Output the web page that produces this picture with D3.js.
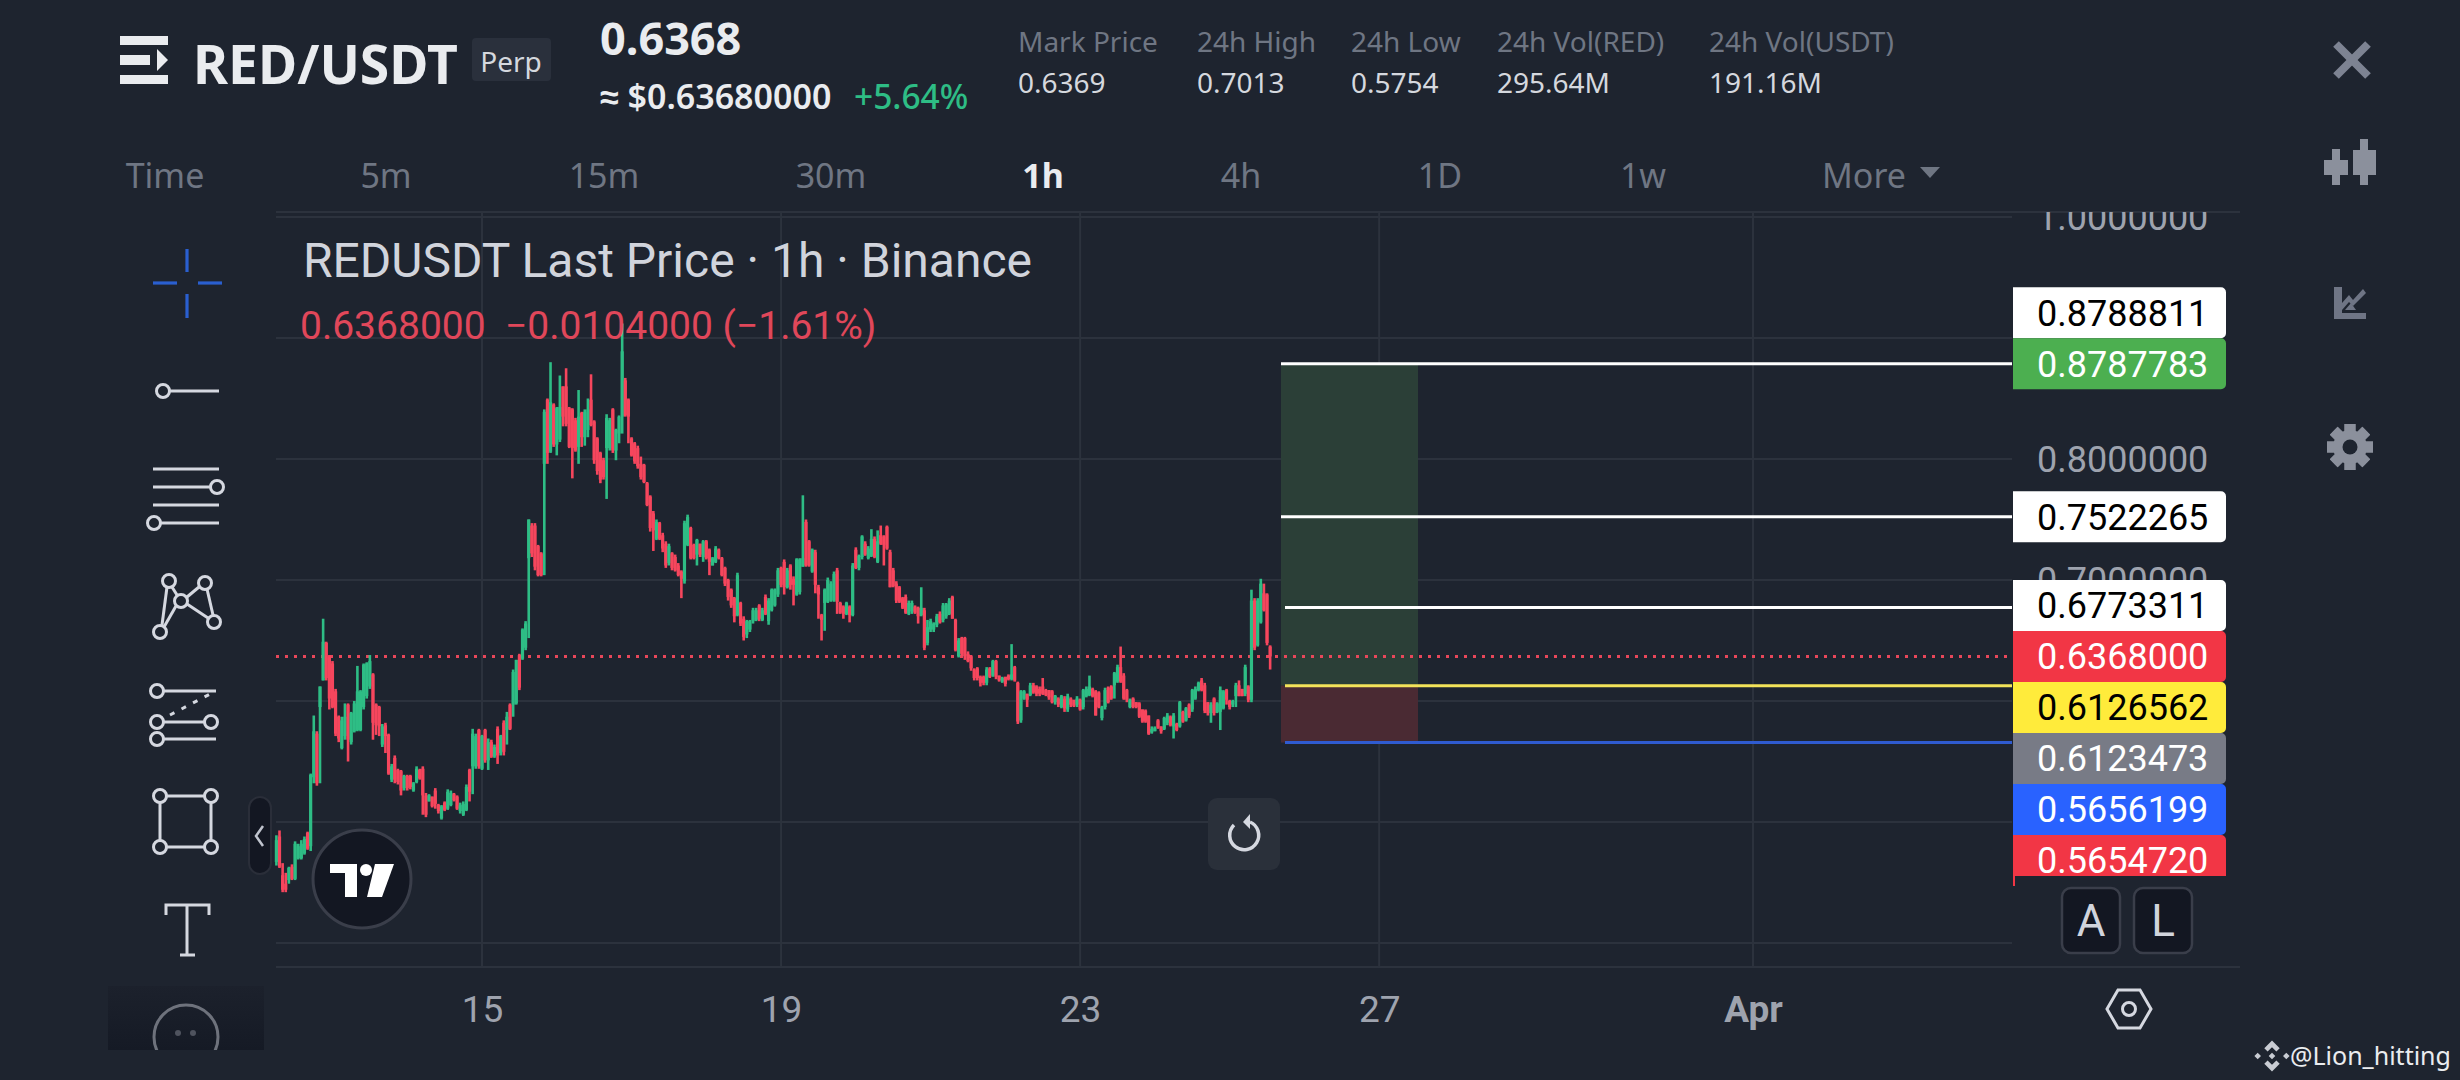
<!DOCTYPE html>
<html><head><meta charset="utf-8">
<script src="https://cdn.jsdelivr.net/npm/d3@7/dist/d3.min.js"></script>
<style>html,body{margin:0;padding:0;background:#1e242f;overflow:hidden}svg{display:block}text{font-family:Roboto,sans-serif}</style>
</head><body><svg id="c" width="2460" height="1080"></svg>
<script>
const highs=[
.489,.493,.466,.458,.463,.465,.484,.482,.485,.488,.492,.540,.588,.575,.612,.668,.649,.638,.633,.610,
.588,.587,.598,.598,.591,.600,.629,.609,.631,.632,.638,.623,.598,.596,.581,.582,.573,.548,.555,.544,
.543,.539,.539,.539,.533,.546,.544,.546,.524,.523,.521,.528,.515,.514,.517,.527,.526,.524,.522,.516,
.517,.531,.544,.577,.573,.577,.572,.577,.569,.568,.564,.579,.572,.584,.591,.598,.626,.634,.639,.660,
.666,.750,.747,.747,.729,.723,.841,.850,.880,.846,.843,.869,.860,.875,.843,.842,.834,.857,.839,.841,
.850,.870,.832,.818,.806,.801,.837,.834,.842,.825,.836,.912,.867,.850,.818,.814,.811,.802,.796,.781,
.770,.757,.750,.748,.739,.732,.730,.723,.721,.714,.708,.749,.754,.744,.730,.734,.730,.733,.733,.726,
.719,.728,.726,.719,.711,.701,.693,.686,.706,.682,.670,.667,.667,.677,.677,.680,.677,.688,.685,.693,
.693,.710,.711,.717,.710,.713,.703,.718,.718,.770,.750,.733,.726,.725,.696,.672,.693,.702,.699,.707,
.710,.682,.679,.682,.679,.714,.727,.721,.737,.732,.728,.742,.736,.741,.745,.737,.745,.725,.710,.699,
.695,.686,.688,.683,.683,.679,.678,.694,.677,.667,.668,.665,.672,.674,.681,.681,.685,.687,.668,.652,
.653,.653,.641,.638,.627,.628,.621,.621,.628,.628,.634,.634,.621,.620,.620,.622,.647,.629,.616,.609,
.609,.606,.615,.615,.613,.612,.619,.610,.609,.609,.605,.603,.605,.604,.606,.603,.601,.604,.602,.610,
.612,.621,.611,.609,.608,.596,.611,.612,.613,.624,.630,.645,.623,.610,.602,.603,.599,.599,.593,.593,
.588,.579,.579,.585,.579,.587,.590,.588,.590,.582,.600,.592,.595,.598,.610,.612,.616,.619,.615,.599,
.599,.603,.599,.612,.609,.610,.601,.601,.615,.617,.610,.630,.613,.692,.685,.685,.701,.697,.689,.646];
const lows=[
.464,.462,.442,.442,.449,.452,.452,.469,.469,.473,.477,.476,.532,.530,.532,.617,.617,.593,.594,.571,
.566,.560,.568,.550,.564,.574,.575,.575,.593,.602,.610,.568,.572,.571,.562,.557,.539,.533,.532,.531,
.522,.526,.526,.527,.525,.532,.535,.506,.504,.517,.512,.511,.507,.502,.509,.510,.513,.517,.510,.507,
.505,.509,.517,.523,.544,.544,.543,.549,.543,.553,.553,.548,.555,.555,.564,.576,.587,.597,.609,.634,
.642,.652,.719,.708,.703,.703,.704,.796,.805,.810,.803,.814,.827,.827,.809,.784,.806,.796,.810,.811,
.818,.827,.796,.787,.780,.783,.767,.807,.805,.799,.813,.821,.835,.813,.802,.796,.792,.783,.780,.761,
.740,.724,.733,.733,.723,.710,.712,.708,.707,.703,.685,.697,.728,.717,.717,.712,.719,.715,.717,.704,
.712,.714,.717,.703,.695,.683,.677,.665,.670,.662,.650,.652,.657,.664,.666,.666,.666,.671,.663,.674,
.678,.686,.694,.688,.693,.692,.679,.687,.688,.711,.711,.711,.706,.689,.668,.650,.658,.681,.682,.682,
.672,.672,.668,.671,.665,.670,.709,.708,.717,.720,.717,.719,.718,.714,.729,.712,.725,.694,.694,.681,
.681,.676,.672,.671,.672,.672,.664,.670,.642,.646,.657,.657,.661,.664,.665,.668,.671,.668,.641,.636,
.637,.634,.632,.625,.617,.617,.612,.613,.613,.619,.620,.618,.616,.615,.612,.617,.617,.616,.581,.582,
.601,.595,.604,.606,.604,.604,.605,.604,.601,.598,.597,.595,.594,.591,.591,.595,.595,.595,.592,.593,
.603,.604,.603,.588,.594,.584,.593,.598,.601,.602,.615,.615,.601,.599,.594,.594,.594,.586,.582,.582,
.572,.573,.575,.577,.573,.576,.580,.579,.569,.575,.578,.582,.583,.586,.591,.601,.608,.608,.590,.588,
.582,.588,.590,.576,.593,.597,.593,.595,.595,.604,.604,.604,.599,.599,.642,.645,.664,.674,.646,.626];
const opens=[
.467,.488,.456,.449,.452,.463,.453,.470,.470,.474,.491,.480,.537,.573,.595,.617,.648,.637,.631,.608,
.587,.561,.571,.597,.566,.575,.576,.576,.595,.604,.612,.622,.597,.595,.564,.580,.572,.535,.553,.543,
.542,.528,.538,.538,.526,.533,.543,.544,.522,.517,.521,.526,.514,.503,.516,.511,.514,.523,.521,.509,
.506,.510,.543,.546,.546,.576,.544,.576,.551,.566,.554,.577,.557,.582,.576,.597,.597,.598,.638,.635,
.644,.718,.745,.745,.728,.722,.796,.849,.806,.845,.812,.816,.860,.860,.842,.841,.832,.810,.838,.818,
.824,.849,.831,.817,.805,.799,.809,.809,.841,.807,.821,.835,.865,.849,.817,.813,.809,.796,.795,.780,
.769,.755,.734,.747,.737,.730,.714,.722,.719,.712,.707,.699,.729,.743,.729,.721,.730,.719,.732,.725,
.712,.715,.725,.718,.710,.700,.692,.685,.671,.681,.668,.655,.659,.666,.667,.679,.667,.686,.666,.675,
.679,.688,.710,.715,.694,.712,.701,.688,.690,.711,.748,.732,.707,.723,.694,.671,.681,.682,.683,.683,
.708,.681,.678,.672,.678,.671,.725,.710,.719,.730,.718,.720,.734,.715,.737,.736,.744,.723,.708,.697,
.694,.685,.686,.672,.674,.678,.677,.671,.675,.648,.659,.659,.663,.672,.667,.670,.672,.686,.667,.637,
.652,.652,.639,.637,.626,.627,.620,.620,.615,.627,.621,.633,.621,.616,.620,.621,.618,.628,.615,.584,
.602,.606,.605,.613,.612,.610,.612,.609,.609,.608,.599,.602,.595,.602,.593,.602,.601,.597,.601,.595,
.604,.605,.610,.608,.607,.586,.595,.611,.612,.613,.616,.628,.621,.609,.595,.602,.599,.598,.593,.592,
.588,.574,.575,.584,.579,.577,.582,.587,.579,.581,.579,.591,.584,.597,.593,.602,.609,.617,.613,.599,
.590,.602,.591,.591,.594,.609,.600,.597,.604,.613,.610,.606,.612,.601,.683,.646,.665,.689,.688,.645];
const closes=[
.485,.463,.444,.444,.462,.453,.482,.480,.482,.486,.478,.539,.575,.532,.612,.649,.619,.602,.595,.573,
.569,.584,.587,.568,.590,.598,.608,.608,.630,.631,.633,.582,.580,.579,.579,.571,.540,.546,.535,.533,
.526,.538,.528,.529,.532,.544,.536,.522,.506,.522,.513,.515,.509,.513,.510,.525,.524,.518,.511,.514,
.515,.529,.525,.573,.571,.546,.571,.551,.566,.554,.562,.555,.571,.558,.587,.577,.624,.634,.611,.659,
.664,.750,.722,.711,.704,.704,.839,.805,.847,.812,.842,.843,.835,.829,.810,.809,.807,.835,.818,.839,
.841,.828,.799,.790,.783,.785,.834,.832,.807,.824,.835,.889,.836,.835,.803,.798,.794,.785,.781,.762,
.743,.741,.748,.734,.726,.712,.728,.710,.708,.704,.701,.747,.752,.718,.718,.733,.721,.732,.718,.715,
.718,.726,.718,.704,.697,.686,.679,.670,.704,.664,.653,.666,.666,.675,.675,.668,.675,.672,.683,.692,
.692,.708,.696,.694,.708,.696,.696,.717,.717,.718,.712,.712,.725,.696,.688,.667,.692,.700,.697,.705,
.682,.673,.672,.681,.671,.712,.710,.720,.736,.721,.726,.734,.719,.732,.730,.729,.726,.694,.695,.683,
.682,.677,.673,.681,.681,.673,.670,.677,.644,.661,.666,.664,.670,.665,.679,.680,.683,.668,.642,.650,
.639,.637,.633,.627,.619,.619,.615,.615,.626,.620,.633,.620,.617,.619,.614,.618,.622,.617,.583,.608,
.608,.601,.613,.607,.606,.606,.606,.605,.603,.599,.604,.597,.604,.594,.604,.597,.596,.602,.593,.609,
.610,.612,.604,.588,.595,.595,.609,.599,.602,.623,.628,.616,.602,.601,.601,.595,.595,.587,.583,.583,
.573,.577,.578,.578,.575,.586,.588,.580,.588,.576,.599,.583,.594,.588,.609,.610,.615,.609,.592,.590,
.597,.590,.598,.609,.608,.601,.595,.600,.613,.604,.604,.628,.601,.683,.644,.683,.697,.675,.648,.6368];

const dateTicks=["2025-03-15","2025-03-19","2025-03-23","2025-03-27","2025-04-01"];
const dateLabels=["15","19","23","27","Apr"];
const priceTicks=[1.0,0.8,0.7];
const gridPrices=[1.0,0.9,0.8,0.7,0.6,0.5,0.4];
const lastPrice=0.6368;
const tp2=0.8787783,tp1=0.7522265,lev=0.6773311,entry=0.6126562,stop=0.5656199;
const tagValues=["0.8788811","0.8787783","0.7522265","0.6773311","0.6368000","0.6126562","0.6123473","0.5656199","0.5654720"];
const tagFill=["#ffffff","#4caf50","#ffffff","#ffffff","#f23645","#ffeb3b","#787b86","#2962ff","#f23645"];
const tagInk=["#000","#fff","#000","#000","#fff","#000","#fff","#fff","#fff"];
const tabs=["Time","5m","15m","30m","1h","4h","1D","1w","More"];
const statNames=["Mark Price","24h High","24h Low","24h Vol(RED)","24h Vol(USDT)"];
const statValues=["0.6369","0.7013","0.5754","295.64M","191.16M"];

const svg=d3.select("#c");
const BG="#1e242f",GRID="#2c323d",UP="#2ebd85",DOWN="#f6465d",ICON="#d5d8e0",DIM="#9ea3ae",MUTED="#6f7683";
svg.append("rect").attr("width",2460).attr("height",1080).attr("fill",BG);
const parse=d3.utcParse("%Y-%m-%d");
const L=276,R=2012,T=212,B=967;
const x=d3.scaleUtc().domain([parse("2025-03-15"),parse("2025-04-01")]).range([482,1753]);
const y=d3.scaleLinear().domain([0.4,1.0]).range([943,217]);
const t0=Date.UTC(2025,2,12,6);
const cx=i=>x(new Date(t0+i*3600e3));
const defs=svg.append("defs");
defs.append("clipPath").attr("id","axisClip").append("rect").attr("x",R).attr("y",T).attr("width",230).attr("height",B-T);
defs.append("clipPath").attr("id","tagClip").append("rect").attr("x",R).attr("y",T).attr("width",230).attr("height",876-T);
defs.append("clipPath").attr("id","moreClip").append("rect").attr("x",108).attr("y",986).attr("width",156).attr("height",64);
const grad=defs.append("linearGradient").attr("id","fade").attr("x1",0).attr("x2",0).attr("y1",0).attr("y2",1);
grad.append("stop").attr("offset",0).attr("stop-color","#1c212c");
grad.append("stop").attr("offset",1).attr("stop-color","#151a25");

// borders and grid
const borders=svg.append("g").attr("stroke",GRID).attr("stroke-width",2);
borders.append("line").attr("x1",L).attr("x2",2240).attr("y1",T).attr("y2",T);
borders.append("line").attr("x1",L).attr("x2",2240).attr("y1",B).attr("y2",B);
svg.append("g").selectAll("line").data(gridPrices).join("line").attr("x1",L).attr("x2",R)
 .attr("y1",d=>y(d)).attr("y2",d=>y(d)).attr("stroke",GRID).attr("stroke-width",2);
svg.append("g").selectAll("line").data(dateTicks).join("line").attr("x1",d=>x(parse(d))).attr("x2",d=>x(parse(d)))
 .attr("y1",T).attr("y2",B).attr("stroke",GRID).attr("stroke-width",2);

// position tool
svg.append("rect").attr("x",1281).attr("width",137).attr("y",y(tp2)).attr("height",y(entry)-y(tp2)).attr("fill","#2b3f37");
svg.append("rect").attr("x",1281).attr("width",137).attr("y",y(entry)).attr("height",y(stop)-y(entry)).attr("fill","#4a2a33");

// last price dotted
svg.append("line").attr("x1",L).attr("x2",R).attr("y1",y(lastPrice)).attr("y2",y(lastPrice))
 .attr("stroke","#e8475a").attr("stroke-width",3).attr("stroke-dasharray","3 6");

// candles
const idx=d3.range(closes.length);
const col=i=>closes[i]>=opens[i]?UP:DOWN;
svg.append("g").selectAll("rect").data(idx).join("rect")
 .attr("x",i=>cx(i)-1.3).attr("width",2.6).attr("y",i=>y(highs[i])).attr("height",i=>y(lows[i])-y(highs[i])).attr("fill",col);
svg.append("g").selectAll("rect").data(idx).join("rect")
 .attr("x",i=>cx(i)-1.6).attr("width",3.2).attr("y",i=>y(Math.max(opens[i],closes[i])))
 .attr("height",i=>Math.max(1.2,Math.abs(y(opens[i])-y(closes[i])))).attr("fill",col);

// levels
const levels=[[tp2,1281,"#ffffff"],[tp1,1281,"#ffffff"],[lev,1285,"#ffffff"],[entry,1285,"#f3e35a"],[stop,1285,"#2f5bd0"]];
svg.append("g").selectAll("line").data(levels).join("line").attr("x1",d=>d[1]).attr("x2",R)
 .attr("y1",d=>y(d[0])).attr("y2",d=>y(d[0])).attr("stroke",d=>d[2]).attr("stroke-width",3);

// axes
const ay=svg.append("g").attr("clip-path","url(#axisClip)").append("g").attr("transform",`translate(${R},0)`)
 .call(d3.axisRight(y).tickValues(priceTicks).tickSize(0).tickPadding(25).tickFormat(d3.format(".7f")));
ay.select(".domain").remove();
ay.selectAll("text").attr("font-size",36).attr("fill",DIM).attr("font-family","Roboto").attr("dy","0.36em");
const ax=svg.append("g").attr("transform","translate(0,1009)")
 .call(d3.axisBottom(x).tickValues(dateTicks.map(parse)).tickSize(0).tickPadding(0).tickFormat((d,i)=>dateLabels[i]));
ax.select(".domain").remove();
ax.selectAll("text").attr("font-size",37).attr("fill",DIM).attr("font-family","Roboto").attr("dy","0.36em")
 .attr("font-weight",(d,i)=>dateLabels[i]==="Apr"?700:400);

// price tags
const tagH=51,anchors=[tp2,tp2,tp1,lastPrice,lastPrice,lastPrice,lastPrice,lastPrice,lastPrice],slots=[-1,0,0,-1,0,1,2,3,4];
svg.append("rect").attr("x",R+1).attr("y",870).attr("width",2).attr("height",16).attr("fill","#f23645");
const tagG=svg.append("g").attr("clip-path","url(#tagClip)").selectAll("g").data(tagValues).join("g")
 .attr("transform",(d,i)=>`translate(${R+1},${y(anchors[i])+slots[i]*tagH})`);
tagG.append("path").attr("fill",(d,i)=>tagFill[i])
 .attr("d","M0,-25.5H208a5,5 0 0 1 5,5V20.5a5,5 0 0 1 -5,5H0Z");
tagG.append("text").attr("x",24).attr("dy","0.36em").attr("font-size",36).attr("font-family","Roboto").attr("fill",(d,i)=>tagInk[i]).text(d=>d);

// header
const NS="'Noto Sans',sans-serif";
const txt=(s,px,py,size,fill,weight,anchor,fam)=>svg.append("text").attr("x",px).attr("y",py).attr("dy","0.36em").attr("font-size",size).attr("fill",fill)
 .attr("font-weight",weight||400).attr("text-anchor",anchor||"start").style("font-family",fam||NS).text(s);
const logo=svg.append("g").attr("fill","#eaecef");
logo.append("rect").attr("x",120).attr("y",36).attr("width",48).attr("height",9);
logo.append("rect").attr("x",120).attr("y",55).attr("width",30).attr("height",10);
logo.append("path").attr("d","M157,49L168,60L157,71Z");
logo.append("rect").attr("x",120).attr("y",75).attr("width",48).attr("height",9);
txt("RED/USDT",193,65,53.5,"#eaecef",700);
svg.append("rect").attr("x",472).attr("y",38).attr("width",79).attr("height",43).attr("rx",4).attr("fill","#2a303c");
txt("Perp",511,62,28,"#d5d8de",400,"middle");
txt("0.6368",600,39,45,"#eaecef",700);
txt("≈ $0.63680000",600,97,34,"#eaecef",600);
txt("+5.64%",854,97,33.5,UP,500);
const statX=[1018,1197,1351,1497,1709];
statNames.forEach((s,i)=>{txt(s,statX[i],42,28,MUTED);txt(statValues[i],statX[i],83,28,"#d5d8de");});
const tabX=[165,386,604,831,1043,1241,1440,1643,1864];
tabs.forEach((s,i)=>txt(s,tabX[i],176,34,s==="1h"?"#eaecef":MUTED,s==="1h"?700:400,"middle"));
svg.append("path").attr("d","M1920,167H1940L1930,178Z").attr("fill",MUTED);

// chart legend
txt("REDUSDT Last Price · 1h · Binance",303,260,48,"#d1d4dc",400,"start","Roboto");
svg.append("text").attr("x",300).attr("y",325).attr("dy","0.36em").attr("font-size",39).attr("fill","#e0475a").style("font-family","Roboto")
 .attr("xml:space","preserve").text("0.6368000  −0.0104000 (−1.61%)");

// left toolbar
const tools=svg.append("g").attr("fill","none").attr("stroke",ICON).attr("stroke-width",3);
const ln=(g,a,b,c,d)=>g.append("line").attr("x1",a).attr("y1",b).attr("x2",c).attr("y2",d);
const ci=(g,a,b,r)=>g.append("circle").attr("cx",a).attr("cy",b).attr("r",r||6.5);
const ch=svg.append("g").attr("stroke","#2a5fd0").attr("stroke-width",3.2);
ln(ch,187,249,187,272);ln(ch,187,294,187,318);ln(ch,153,283,177,283);ln(ch,198,283,222,283);
ci(tools,163,391);ln(tools,170,391,219,391);
ln(tools,153,469,219,469);ln(tools,153,487,210,487);ci(tools,217,487);ln(tools,153,505,219,505);ci(tools,154,523);ln(tools,161,523,219,523);
[[169,581],[205,583],[181,601],[160,632],[214,622]].forEach(p=>ci(tools,p[0],p[1]));
ln(tools,172,587,177,595);ln(tools,199,587,187,597);ln(tools,167,587,162,625);ln(tools,176,606,164,627);ln(tools,187,604,208,618);ln(tools,207,589,213,615);
ci(tools,157,691);ln(tools,164,691,216,691);
ln(tools,170,715,212,693).attr("stroke-dasharray","5 8");
ci(tools,157,722);ci(tools,211,722);ln(tools,164,722,204,722);ci(tools,157,739);ln(tools,164,739,216,739);
[[160,796],[211,796],[160,847],[211,847]].forEach(p=>ci(tools,p[0],p[1]));
ln(tools,167,796,204,796);ln(tools,167,847,204,847);ln(tools,160,803,160,840);ln(tools,211,803,211,840);
tools.append("path").attr("d","M166,915V905H209V915M187,905V955M180,955H195");
const more=svg.append("g").attr("clip-path","url(#moreClip)");
more.append("rect").attr("x",108).attr("y",986).attr("width",156).attr("height",64).attr("fill","url(#fade)");
more.append("circle").attr("cx",186).attr("cy",1037).attr("r",32).attr("fill","none").attr("stroke","#6e727c").attr("stroke-width",3);
more.append("circle").attr("cx",178).attr("cy",1033).attr("r",3).attr("fill","#4f535e");
more.append("circle").attr("cx",193).attr("cy",1033).attr("r",3).attr("fill","#4f535e");

// collapse handle
svg.append("rect").attr("x",249).attr("y",797).attr("width",22).attr("height",77).attr("rx",11).attr("fill","#131722").attr("stroke","#2a2e39").attr("stroke-width",2);
svg.append("path").attr("d","M263,826L256,836L263,846").attr("fill","none").attr("stroke","#c0c4ce").attr("stroke-width",2.5);

// TV badge
svg.append("circle").attr("cx",362).attr("cy",879).attr("r",49).attr("fill","#131722").attr("stroke","#3a3e4a").attr("stroke-width",3);
const tv=svg.append("g").attr("fill","#fff");
tv.append("path").attr("d","M330,864H357V897H345V873H330Z");
tv.append("circle").attr("cx",366).attr("cy",870).attr("r",6);
tv.append("path").attr("d","M375,864H394L382,897H367Z");

// reset button
svg.append("rect").attr("x",1208).attr("y",798).attr("width",72).attr("height",72).attr("rx",9).attr("fill","#2a303a");
svg.append("path").attr("d","M1234,825A14.5,14.5 0 1 0 1250,822").attr("fill","none").attr("stroke","#d5d8e0").attr("stroke-width",3.5);
svg.append("path").attr("d","M1250,814L1243,822L1250,829Z").attr("fill","#d5d8e0");

// A / L buttons
[["A",2091],["L",2163]].forEach(b=>{
 svg.append("rect").attr("x",b[1]-29).attr("y",888).attr("width",58).attr("height",65).attr("rx",9).attr("fill","#131722").attr("stroke","#3a3e4a").attr("stroke-width",2.5);
 txt(b[0],b[1],920,44,"#d1d4dc",400,"middle","Roboto");
});
// hex
svg.append("path").attr("d","M2118,990H2140L2151,1009L2140,1028H2118L2107,1009Z").attr("fill","none").attr("stroke",ICON).attr("stroke-width",3);
svg.append("circle").attr("cx",2129).attr("cy",1009).attr("r",6.5).attr("fill","none").attr("stroke",ICON).attr("stroke-width",3);

// right icons
const cross=svg.append("g").attr("stroke","#7d8392").attr("stroke-width",8);
ln(cross,2336,44,2368,76);ln(cross,2368,44,2336,76);
const cs=svg.append("g").attr("fill","#8b909c");
cs.append("rect").attr("x",2324).attr("y",160).attr("width",24).attr("height",15);
cs.append("rect").attr("x",2332).attr("y",149).attr("width",8).attr("height",36);
cs.append("rect").attr("x",2353).attr("y",150).attr("width",23).attr("height",25);
cs.append("rect").attr("x",2360).attr("y",139).attr("width",8).attr("height",46);
const ci2=svg.append("g").attr("fill","#6f7585");
ci2.append("rect").attr("x",2334).attr("y",287).attr("width",8).attr("height",32);
ci2.append("rect").attr("x",2334).attr("y",313).attr("width",32).attr("height",6);
ci2.append("path").attr("d","M2342,303L2349,295L2353,300L2363,289L2366,293L2353,306L2349,302L2342,310Z");
ci2.append("path").attr("d","M2345,310H2356L2351,303Z");
const gear=svg.append("g").attr("transform","translate(2350,447)").attr("fill","#8b909c");
d3.range(8).forEach(k=>gear.append("rect").attr("x",-5.5).attr("y",-23).attr("width",11).attr("height",46).attr("transform",`rotate(${k*45})`));
gear.append("circle").attr("r",17);
gear.append("circle").attr("r",7.5).attr("fill",BG);

// watermark
const wm=svg.append("g").attr("transform","translate(2272,1056) scale(1.1)").attr("fill","#c9ccd3");
wm.append("path").attr("d","M0,-14L7,-7L4,-4L0,-8L-4,-4L-7,-7ZM0,14L7,7L4,4L0,8L-4,4L-7,7ZM-13,-3L-10,0L-13,3L-16,0ZM13,-3L16,0L13,3L10,0ZM0,-3L3,0L0,3L-3,0Z");
txt("@Lion_hitting",2290,1056,25,"#eaecef",400);
</script></body></html>
